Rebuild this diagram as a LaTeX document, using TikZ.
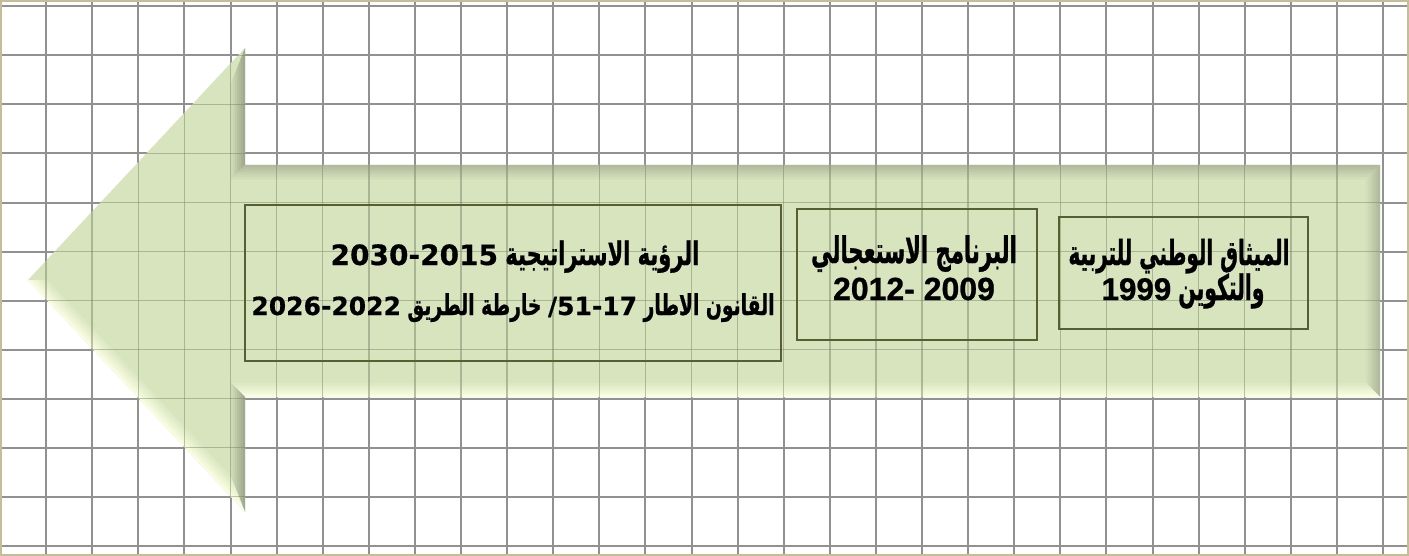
\documentclass[tikz,border=0pt]{standalone}
\usepackage{fontspec}
\TeXXeTstate=1
\newfontfamily\arabicA[Script=Arabic, FakeStretch=0.65, FakeBold=0.8]{DejaVu Sans}
\newfontfamily\arabicB[Script=Arabic, FakeStretch=0.58, FakeBold=0.8]{DejaVu Sans}
\newfontfamily\numA[FakeBold=0.5]{DejaVu Sans}
\newfontfamily\numB[FakeBold=0.8]{Liberation Sans}
\newcommand\numa[2]{\beginL{\numA\bfseries\fontsize{#1}{#1}\selectfont #2}\endL}
\newcommand\numb[2]{\beginL{\numB\bfseries\fontsize{#1}{#1}\selectfont #2}\endL}
\definecolor{gridc}{RGB}{145,145,145}
\definecolor{gridin}{RGB}{115,125,95}
\definecolor{basec}{RGB}{215,228,190}
\definecolor{shadowc}{RGB}{160,168,142}
\definecolor{lightc}{RGB}{250,253,226}
\definecolor{boxc}{RGB}{85,95,50}
\definecolor{framec}{RGB}{196,189,151}
\tikzset{
  gridline/.style={draw=gridc, line width=1.5pt},
  gridinner/.style={draw=gridin, line width=1.1pt, draw opacity=0.45},
  tbox/.style={draw=boxc, line width=1.1pt, rectangle, inner sep=0pt, fill=none},
  txtA/.style={font=\arabicA\bfseries, text=black, inner sep=0pt, anchor=base},
  txtB/.style={font=\arabicB\bfseries, text=black, inner sep=0pt, anchor=base},
}
\def\arrowpath{(28,280) -- (245,48) -- (245,165) -- (1380,165) -- (1380,397) -- (245,397) -- (245,512) -- cycle}
\begin{document}
\begin{tikzpicture}[x=0.75pt,y=-0.75pt]
\useasboundingbox (0,0) rectangle (1409,556);
\fill[white] (0,0) rectangle (1409,556);
% grid
\foreach \i in {1,...,30} \draw[gridline] ({46.1*\i},0) -- ({46.1*\i},556);
\foreach \j in {0,...,11} \draw[gridline] (0,{6.5+49*\j}) -- (1409,{6.5+49*\j});
% arrow body
\fill[basec] \arrowpath;
% bevel bands
\foreach \k in {0,...,6}{
  \pgfmathsetmacro\a{2*\k}
  \pgfmathsetmacro\b{2*\k+2.3}
  \pgfmathtruncatemacro\p{100-14*\k}
  \pgfmathtruncatemacro\q{70-10*\k}
  \fill[shadowc!\p!basec] ({245-\a},{48+2.534*\a}) -- ({245-\a},{165+\a}) -- ({245-\b},{165+\b}) -- ({245-\b},{48+2.534*\b}) -- cycle;
  \fill[shadowc!\q!basec] ({245-\a},{165+\a}) -- ({1380-\a},{165+\a}) -- ({1380-\b},{165+\b}) -- ({245-\b},{165+\b}) -- cycle;
  \fill[shadowc!\q!basec] ({1380-\a},{165+\a}) -- ({1380-\a},{397-\a}) -- ({1380-\b},{397-\b}) -- ({1380-\b},{165+\b}) -- cycle;
  \fill[lightc!\p!basec] ({1380-\a},{397-\a}) -- ({245-\a},{397-\a}) -- ({245-\b},{397-\b}) -- ({1380-\b},{397-\b}) -- cycle;
  \fill[shadowc!\p!basec] ({245-\a},{397-\a}) -- ({245-\a},{512-2.534*\a}) -- ({245-\b},{512-2.534*\b}) -- ({245-\b},{397-\b}) -- cycle;
  \fill[lightc!\p!basec] ({245-\a},{512-2.534*\a}) -- ({28+1.37*\a},280) -- ({28+1.37*\b},280) -- ({245-\b},{512-2.534*\b}) -- cycle;
}
% grid seen through the arrow
\begin{scope}
\clip \arrowpath;
\foreach \i in {1,...,30} \draw[gridinner] ({46.1*\i},0) -- ({46.1*\i},556);
\foreach \j in {0,...,11} \draw[gridinner] (0,{6.5+49*\j}) -- (1409,{6.5+49*\j});
\end{scope}
% boxes
\node[tbox, minimum width=402pt, minimum height=117pt] (b1) at (513,283) {};
\node[tbox, minimum width=180pt, minimum height=98.25pt] (b2) at (917,274.5) {};
\node[tbox, minimum width=186.75pt, minimum height=84pt] (b3) at (1183.5,273) {};
% texts
\node[txtA] (t1a) at (515,265) {\fontsize{24.2}{28}\selectfont\beginR الرؤية الاستراتيجية \numa{21}{2030-2015}\endR};
\node[txtA] (t1b) at (513,315) {\fontsize{21.6}{25}\selectfont\beginR القانون الاطار \numa{18.75}{/51-17} خارطة الطريق \numa{18.75}{2026-2022}\endR};
\node[txtB] (t2a) at (914,263) {\fontsize{27.4}{30}\selectfont\beginR البرنامج الاستعجالي\endR};
\node[txtB] (t2b) at (914,300) {\fontsize{24}{28}\selectfont\beginR\numb{24}{2012- 2009}\endR};
\node[txtB] (t3a) at (1179,265) {\fontsize{25.8}{30}\selectfont\beginR الميثاق الوطني للتربية\endR};
\node[txtB] (t3b) at (1183,300) {\fontsize{26.3}{30}\selectfont\beginR والتكوين \numb{23.5}{1999}\endR};
% frame
\draw[framec, line width=1.5pt] (1,1) rectangle (1408,555);
\end{tikzpicture}
\end{document}
